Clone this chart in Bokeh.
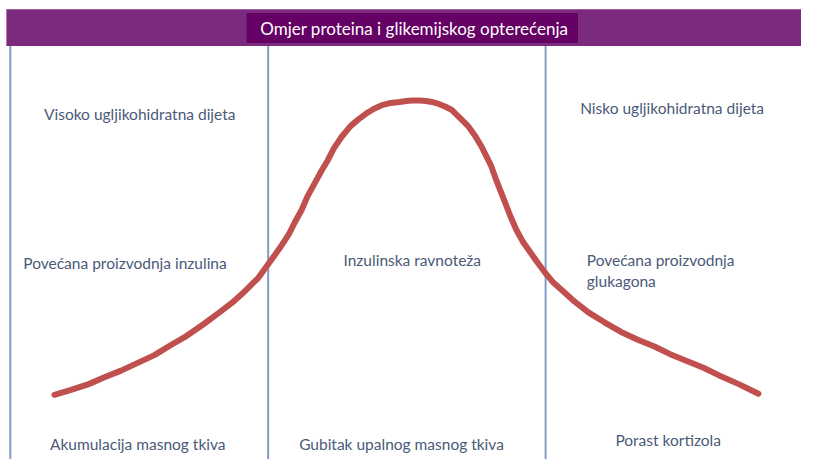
from bokeh.plotting import figure
from bokeh.models import Range1d
from bokeh.core.properties import value
from bokeh.embed import file_html
from bokeh.resources import INLINE

# ---- data (in its pixel frame) ----
curve_x = [55, 72, 90, 106, 123, 140, 157, 173, 190, 207, 223, 236, 247, 256, 263, 268,
           273, 280, 287, 294, 300, 307, 313, 320, 327, 334, 340, 348, 357, 365, 373,
           381, 390, 398, 407, 414, 420, 427, 434, 440, 447, 454, 460, 468, 477, 484,
           490, 495, 500, 505, 510, 515, 520, 526, 533, 540, 547, 555, 563, 573, 586,
           600, 616, 633, 650, 667, 683, 700, 717, 733, 753, 773]
curve_y = [408, 403, 397, 390, 383, 375, 367, 357, 347, 335, 323, 313, 303, 294, 287, 280,
           273, 263, 253, 242, 230, 217, 203, 190, 177, 165, 153, 141, 130, 123, 117,
           112, 108, 106, 105, 104, 103.5, 103.5, 104, 105, 107, 110, 113, 121, 130, 140,
           150, 160, 170, 184, 197, 210, 223, 237, 250, 260, 270, 281, 291, 300, 312,
           323, 333, 343, 351, 358, 366, 373, 380, 388, 397, 407]

divider_x = [10, 273, 556]

title_text = "Omjer proteina i glikemijskog opterećenja"

label_text = ["Visoko ugljikohidratna dijeta", "Nisko ugljikohidratna dijeta",
              "Povećana proizvodnja  inzulina", "Inzulinska ravnoteža",
              "Povećana proizvodnja", "glukagona",
              "Akumulacija masnog tkiva", "Gubitak upalnog masnog tkiva", "Porast kortizola"]
label_x = [142, 685, 129, 420, 598, 598, 140, 409, 681]
label_y = [117, 111, 272, 269, 269, 290, 459, 459, 455]
label_align = ["center", "center", "center", "center", "left", "left", "center", "center", "center"]

p = figure(width=801, height=459, output_backend="svg", toolbar_location=None,
           x_range=Range1d(0, 817), y_range=Range1d(475, 0),
           min_border=0, outline_line_color=None)
p.axis.visible = False
p.grid.visible = False
p.background_fill_color = "white"
p.border_fill_color = "white"

# header band
p.quad(left=6, right=830, top=9, bottom=47, fill_color="#7C2A7D", line_color=None)
p.quad(left=251, right=589, top=13, bottom=44, fill_color="#650065", line_color=None)
p.text(x=[422], y=[29], text=[title_text], text_color="white",
       text_font=value("Lato"), text_font_size="17px",
       text_align="center", text_baseline="middle")

# dividers
p.segment(x0=divider_x, y0=[47] * 3, x1=divider_x, y1=[490] * 3,
          line_color="#7F9EC4", line_width=2)

# curve
p.line(curve_x, curve_y, line_color="#C0504D", line_width=6, line_cap="round", line_join="round")

# labels
src = dict(x=label_x, y=label_y, text=label_text, align=label_align)
p.text(x="x", y="y", text="text", text_align="align", source=src,
       text_color="#4A5A78", text_font=value("Lato"), text_font_size="15.5px",
       text_baseline="middle")

open("out.html", "w").write(file_html(p, INLINE))
